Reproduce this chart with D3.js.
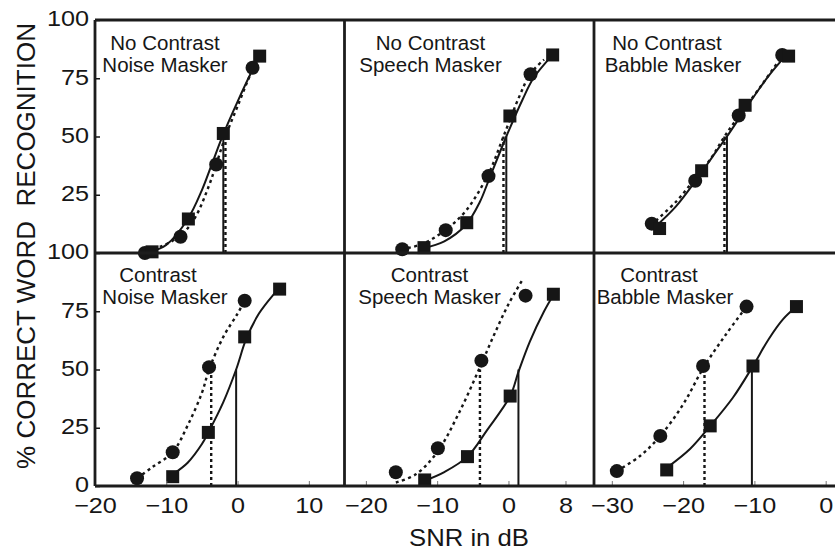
<!DOCTYPE html>
<html>
<head>
<meta charset="utf-8">
<script src="https://cdn.jsdelivr.net/npm/d3@7"></script>
<style>
  html, body { margin: 0; padding: 0; background: #fff; }
  svg { display: block; font-family: "Liberation Sans", Arial, Helvetica, sans-serif; }
</style>
</head>
<body>
<svg id="chart" width="835" height="551"></svg>
<script>
// ---- Data: % correct word recognition vs SNR (dB) ----
// Squares = solid fit, circles = dotted fit; thresholds = SNR at 50%.

const snrTicksNoise  = [-20, -10, 0, 10];
const snrTicksSpeech = [-20, -10, 0, 8];
const snrTicksBabble = [-30, -20, -10, 0];
const snrDomainNoise  = [-20, 15];
const snrDomainSpeech = [-23, 12];
const snrDomainBabble = [-32.5, 2.5];
const pctTicksTop    = [100, 75, 50, 25];
const pctTicksBottom = [100, 75, 50, 25, 0];

const panelTitles = [
  ["No Contrast", "Noise Masker"],
  ["No Contrast", "Speech Masker"],
  ["No Contrast", "Babble Masker"],
  ["Contrast", "Noise Masker"],
  ["Contrast", "Speech Masker"],
  ["Contrast", "Babble Masker"]
];

// No Contrast, noise masker
const ncNoiseSquares = [[-12.0, 0.5], [-6.9, 14.6], [-2.0, 51.3], [3.1, 84.5]];
const ncNoiseCircles = [[-13.0, 0], [-8.0, 7], [-3.0, 38], [2.1, 79.5]];
const ncNoiseSolid   = [[-12.3, 0.5], [-10, 3.5], [-7, 14.5], [-5, 27], [-3.5, 39], [-2, 51], [0, 65], [2, 78], [3.2, 85]];
const ncNoiseDotted  = [[-13.5, 0], [-11, 2.5], [-8, 7.5], [-6, 15], [-4, 29], [-3, 38], [-1.7, 50], [0, 63], [2, 78], [3.2, 85]];
const ncNoiseThresholds = [-2.0, -1.7];

// No Contrast, speech masker
const ncSpeechSquares = [[-11.85, 2.3], [-5.85, 13], [0.2, 58.8], [6.2, 85]];
const ncSpeechCircles = [[-14.9, 1.6], [-8.8, 9.8], [-2.8, 33], [3.1, 76.7]];
const ncSpeechSolid   = [[-12, 2], [-9, 5], [-6, 12], [-4, 22], [-2.8, 31], [-0.3, 50], [2, 66], [3.5, 75], [6.2, 85]];
const ncSpeechDotted  = [[-15, 1.5], [-12, 4], [-9, 9.5], [-6, 18], [-2.8, 34], [-0.7, 50], [1.5, 67], [3.1, 77], [5, 83]];
const ncSpeechThresholds = [-0.3, -0.7];

// No Contrast, babble masker
const ncBabbleSquares = [[-23.3, 10.5], [-17.4, 35.3], [-11.3, 63.4], [-5.2, 84.5]];
const ncBabbleCircles = [[-24.4, 12.6], [-18.3, 31], [-12.2, 59], [-6.1, 85]];
const ncBabbleSolid   = [[-24, 11], [-21, 20], [-18, 32], [-15.5, 43], [-13.85, 50], [-11, 63], [-8, 76], [-5.5, 85]];
const ncBabbleDotted  = [[-24.5, 12], [-21, 22], [-18.3, 32], [-16, 41], [-14.2, 50], [-12, 59.5], [-9, 72], [-6, 85]];
const ncBabbleThresholds = [-13.85, -14.2];

// Contrast, noise masker
const cNoiseSquares = [[-9.1, 4], [-4.1, 23], [1.0, 64], [5.9, 84.5]];
const cNoiseCircles = [[-14.1, 3.3], [-9.1, 14.5], [-4.0, 51], [1.0, 79.5]];
const cNoiseSolid   = [[-9.1, 5], [-7, 10], [-5, 18], [-4.1, 23], [-2, 36], [-0.2, 50], [1.2, 63], [3, 74], [5, 82], [5.9, 85]];
const cNoiseDotted  = [[-14.1, 3.3], [-12, 8], [-9.1, 14.5], [-7, 26], [-5, 40], [-4, 50], [-2, 64], [0, 74], [1, 79.5]];
const cNoiseThresholds = [-0.2, -3.7];

// Contrast, speech masker
const cSpeechSquares = [[-11.75, 2.6], [-5.75, 12.6], [0.24, 38.6], [6.3, 82.3]];
const cSpeechCircles = [[-15.8, 5.9], [-9.9, 16.2], [-3.8, 53.8], [2.4, 81.7]];
const cSpeechSolid   = [[-12, 2], [-9, 6], [-5.75, 12.6], [-3, 24], [0.24, 38.6], [1.4, 49], [3, 62], [5, 75], [6.3, 82]];
const cSpeechDotted  = [[-15.8, 1.5], [-13, 5], [-10, 14.5], [-7, 31], [-4, 51], [-2, 65], [0, 78], [2, 88.7]];
const cSpeechThresholds = [1.4, -4.0];

// Contrast, babble masker
const cBabbleSquares = [[-22.3, 6.9], [-16.2, 25.8], [-10.2, 51.5], [-4.1, 77]];
const cBabbleCircles = [[-29.3, 6.4], [-23.2, 21.5], [-17.2, 51.5], [-11.1, 77]];
const cBabbleSolid   = [[-22, 8.5], [-19, 16], [-16.2, 25.8], [-13, 38], [-10.3, 51], [-8, 63], [-6, 71.5], [-4.1, 77]];
const cBabbleDotted  = [[-29.3, 6.4], [-26, 13], [-23.2, 21.5], [-20, 35], [-17.1, 51], [-14, 65], [-11.1, 77]];
const cBabbleThresholds = [-10.35, -17.0];

const thresholdLevel = 50;

// ---- Layout ----
const W = 835, H = 551;
const colLeft = [95, 344.5, 594];
const colW = 249.5;
const rowTop = [20, 253];
const rowH = 233;
const ink = "#161616";
const fontStack = '"Liberation Sans", Arial, Helvetica, sans-serif';

// per-line horizontal centres of the panel captions (px from panel left)
const captionOffsets = [
  [70, 70], [86, 86], [73, 79],
  [63, 70], [85, 85], [65, 71]
];

// widen glyphs a little (the lettering is broader than stock Arial)
function widen(sel, k) {
  sel.each(function () {
    const len = this.getComputedTextLength();
    d3.select(this).attr("textLength", len * k).attr("lengthAdjust", "spacingAndGlyphs");
  });
}

const panels = [
  { row: 0, col: 0, domain: snrDomainNoise,  ticks: snrTicksNoise,  sq: ncNoiseSquares,  ci: ncNoiseCircles,  solid: ncNoiseSolid,  dotted: ncNoiseDotted,  thr: ncNoiseThresholds },
  { row: 0, col: 1, domain: snrDomainSpeech, ticks: snrTicksSpeech, sq: ncSpeechSquares, ci: ncSpeechCircles, solid: ncSpeechSolid, dotted: ncSpeechDotted, thr: ncSpeechThresholds },
  { row: 0, col: 2, domain: snrDomainBabble, ticks: snrTicksBabble, sq: ncBabbleSquares, ci: ncBabbleCircles, solid: ncBabbleSolid, dotted: ncBabbleDotted, thr: ncBabbleThresholds },
  { row: 1, col: 0, domain: snrDomainNoise,  ticks: snrTicksNoise,  sq: cNoiseSquares,   ci: cNoiseCircles,   solid: cNoiseSolid,   dotted: cNoiseDotted,   thr: cNoiseThresholds },
  { row: 1, col: 1, domain: snrDomainSpeech, ticks: snrTicksSpeech, sq: cSpeechSquares,  ci: cSpeechCircles,  solid: cSpeechSolid,  dotted: cSpeechDotted,  thr: cSpeechThresholds },
  { row: 1, col: 2, domain: snrDomainBabble, ticks: snrTicksBabble, sq: cBabbleSquares,  ci: cBabbleCircles,  solid: cBabbleSolid,  dotted: cBabbleDotted,  thr: cBabbleThresholds }
];

const svg = d3.select("#chart");

panels.forEach((p, i) => {
  const x0 = colLeft[p.col], y0 = rowTop[p.row];
  const x = d3.scaleLinear().domain(p.domain).range([x0, x0 + colW]);
  const y = d3.scaleLinear().domain([0, 100]).range([y0 + rowH, y0]);
  const g = svg.append("g");

  const line = d3.line()
    .x(d => x(d[0])).y(d => y(d[1]))
    .curve(d3.curveCatmullRom.alpha(0.5));

  // 50% threshold markers
  g.append("line")
    .attr("x1", x(p.thr[0])).attr("x2", x(p.thr[0]))
    .attr("y1", y(0)).attr("y2", y(thresholdLevel))
    .attr("stroke", ink).attr("stroke-width", 2);
  g.append("line")
    .attr("x1", x(p.thr[1])).attr("x2", x(p.thr[1]))
    .attr("y1", y(0)).attr("y2", y(thresholdLevel))
    .attr("stroke", ink).attr("stroke-width", 2.4)
    .attr("stroke-dasharray", "3,3");

  // fitted curves
  g.append("path").datum(p.dotted).attr("d", line)
    .attr("fill", "none").attr("stroke", ink).attr("stroke-width", 2.4)
    .attr("stroke-dasharray", "3,3.5");
  g.append("path").datum(p.solid).attr("d", line)
    .attr("fill", "none").attr("stroke", ink).attr("stroke-width", 2);

  // data points
  g.selectAll("circle.pt").data(p.ci).join("circle")
    .attr("class", "pt")
    .attr("cx", d => x(d[0])).attr("cy", d => y(d[1]))
    .attr("r", 7).attr("fill", ink);
  const s = 13;
  g.selectAll("rect.pt").data(p.sq).join("rect")
    .attr("class", "pt")
    .attr("x", d => x(d[0]) - s / 2).attr("y", d => y(d[1]) - s / 2)
    .attr("width", s).attr("height", s).attr("fill", ink);

  // panel caption
  const cap = panelTitles[i];
  const offs = captionOffsets[i];
  cap.forEach((t, k) => {
    g.append("text")
      .attr("x", x0 + offs[k])
      .attr("y", y0 + (p.row === 0 ? 30 : 29) + k * 22)
      .attr("text-anchor", "middle")
      .attr("font-size", 20.5)
      .attr("fill", ink)
      .text(t);
  });

  // x axis on bottom row
  if (p.row === 1) {
    const ax = g.append("g")
      .attr("transform", `translate(0,${y0 + rowH})`)
      .call(d3.axisBottom(x).tickValues(p.ticks).tickSizeInner(-5).tickSizeOuter(0).tickPadding(11));
    ax.select(".domain").remove();
    ax.selectAll("line").attr("stroke", "#777").attr("stroke-width", 1);
    ax.selectAll("text").attr("font-size", 22.5).attr("fill", ink)
      .attr("font-family", fontStack);
    widen(ax.selectAll("text"), 1.12);
  }

  // y axis on left column
  if (p.col === 0) {
    const ay = g.append("g")
      .attr("transform", `translate(${x0},0)`)
      .call(d3.axisLeft(y).tickValues(p.row === 0 ? pctTicksTop : pctTicksBottom)
        .tickSizeInner(-5).tickSizeOuter(0).tickPadding(6));
    ay.select(".domain").remove();
    ay.selectAll("line").attr("stroke", ink).attr("stroke-width", 1.5);
    ay.selectAll("text").attr("font-size", 22.5).attr("fill", ink)
      .attr("font-family", fontStack)
      .attr("dy", "0.26em");
    widen(ay.selectAll("text"), 1.12);
  }
});

// ---- panel frame ----
const frame = svg.append("g").attr("stroke", "#1c1c1c").attr("stroke-width", 2.8).attr("fill", "none");
const bottomY = rowTop[1] + rowH;
[rowTop[0], rowTop[1], bottomY].forEach(yy => {
  frame.append("line").attr("x1", colLeft[0]).attr("x2", W).attr("y1", yy).attr("y2", yy);
});
colLeft.forEach(xx => {
  frame.append("line").attr("x1", xx).attr("x2", xx).attr("y1", rowTop[0]).attr("y2", bottomY);
});

// ---- axis titles ----
svg.append("text")
  .attr("transform", "translate(35,246) rotate(-90)")
  .attr("text-anchor", "middle")
  .attr("font-size", 26)
  .attr("fill", ink)
  .style("white-space", "pre")
  .text("% CORRECT WORD  RECOGNITION");

const xTitle = svg.append("text")
  .attr("x", 469).attr("y", 546)
  .attr("text-anchor", "middle")
  .attr("font-size", 24)
  .attr("fill", ink)
  .text("SNR in dB");
widen(xTitle, 1.07);
</script>
</body>
</html>
